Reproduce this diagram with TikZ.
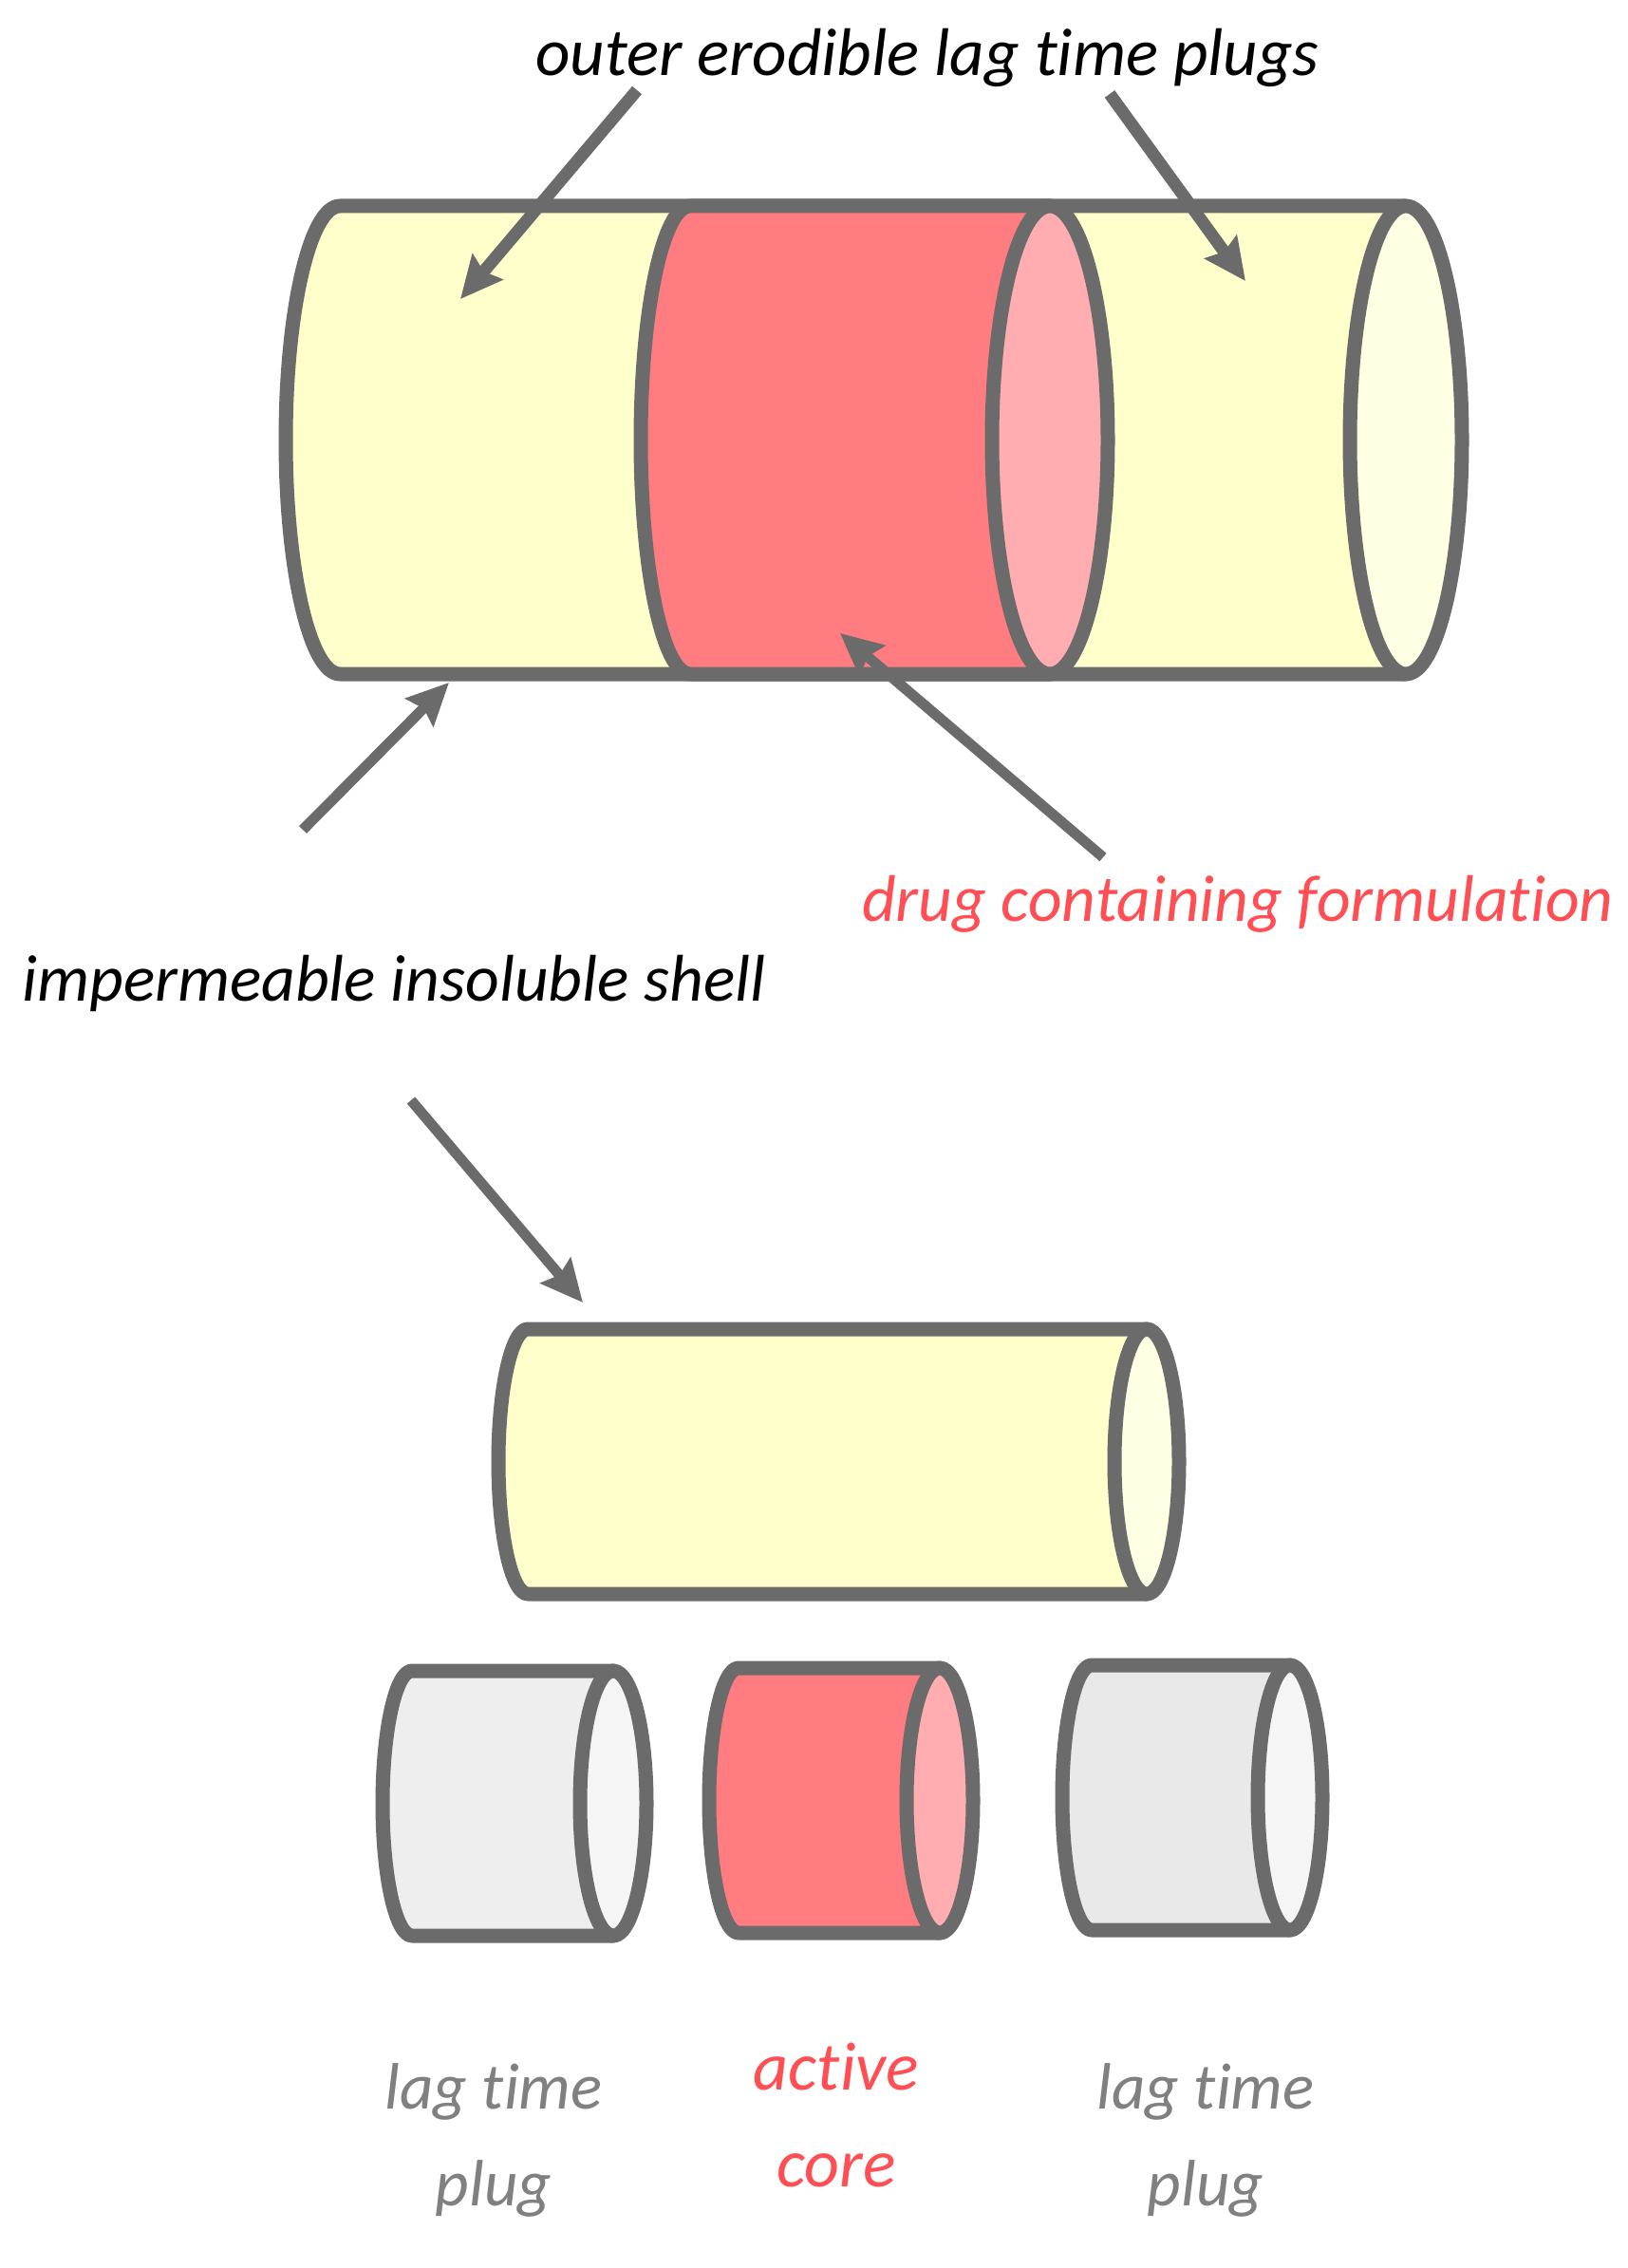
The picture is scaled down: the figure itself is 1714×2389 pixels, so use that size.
\documentclass[tikz,border=0pt]{standalone}
\usepackage{fontspec}
\setmainfont[Ligatures=NoCommon]{Carlito}
\usetikzlibrary{arrows.meta}
\definecolor{edgegray}{HTML}{6B6B6B}
\definecolor{shellyellow}{HTML}{FFFFCC}
\definecolor{shellcap}{HTML}{FFFFE3}
\definecolor{corered}{HTML}{FF7C80}
\definecolor{corecap}{HTML}{FFADB1}
\definecolor{plugA}{HTML}{EEEEEE}
\definecolor{plugB}{HTML}{E9E9E9}
\definecolor{plugcap}{HTML}{F5F5F5}
\definecolor{textred}{HTML}{FF4F55}
\definecolor{textgray}{HTML}{808080}
\tikzset{
  cylpart/.style={draw=edgegray,line width=15pt,line join=round},
  pointer/.style={draw=edgegray,line width=#1,-{Stealth[length=44pt,width=41pt,inset=6pt]}},
  pointer/.default=11pt,
  label text/.style={inner sep=0pt,anchor=base,font=\fontsize{#1}{102}\selectfont\itshape},
  two lines/.style={label text=#1,align=center}
}
% #1 left corner x, #2 cap centre x, #3 top y, #4 bottom y, #5 left bulge rx, #6 body fill
\newcommand{\cylbody}[6]{%
  \pgfmathsetmacro{\cymid}{(#3+#4)/2}%
  \pgfmathsetmacro{\cyry}{(#4-#3)/2}%
  \pgfmathsetmacro{\cykx}{#1-0.5523*#5}%
  \pgfmathsetmacro{\cyex}{#1-#5}%
  \pgfmathsetmacro{\cyup}{\cymid-0.5523*\cyry}%
  \pgfmathsetmacro{\cydn}{\cymid+0.5523*\cyry}%
  \path[cylpart,fill=#6] (#1,#3) .. controls (\cykx,#3) and (\cyex,\cyup) .. (\cyex,\cymid)
    .. controls (\cyex,\cydn) and (\cykx,#4) .. (#1,#4) -- (#2,#4) -- (#2,#3) -- cycle;%
}
% #1 centre x, #2 top y, #3 bottom y, #4 rx, #5 fill
\newcommand{\cylcap}[5]{%
  \pgfmathsetmacro{\cymid}{(#2+#3)/2}%
  \pgfmathsetmacro{\cyry}{(#3-#2)/2}%
  \path[cylpart,fill=#5] (#1,\cymid) ellipse [x radius=#4pt,y radius=\cyry pt];%
}
\begin{document}
\begin{tikzpicture}[x=1pt,y=-1pt]
\useasboundingbox (0,0) rectangle (1714,2389);
\fill[white] (0,0) rectangle (1714,2389);

% large assembled cylinder
\cylbody{358}{1481}{217}{710}{57}{shellyellow}
\cylcap{1481}{217}{710}{59}{shellcap}
\cylbody{727}{1106}{217}{710}{52}{corered}
\cylcap{1106}{217}{710}{61}{corecap}

% shell
\cylbody{556}{1208}{1400}{1679}{31}{shellyellow}
\cylcap{1208}{1400}{1679}{34}{shellcap}

% parts
\cylbody{434}{646}{1760}{2039}{31}{plugA}
\cylcap{646}{1760}{2039}{35}{plugcap}
\cylbody{778}{990}{1757}{2036}{31}{corered}
\cylcap{990}{1757}{2036}{35}{corecap}
\cylbody{1150}{1359}{1754}{2033}{31}{plugB}
\cylcap{1359}{1754}{2033}{34}{plugcap}

% labels
\node[label text=71,text=black] (outer) at (977,80) {outer erodible lag time plugs};
\node[label text=69.5,text=textred] (drug) at (1304,970) {drug containing formulation};
\node[label text=69.5,text=black] (shell) at (415,1054) {impermeable insoluble shell};
\node[two lines=69,text=textgray] (lagA) at (520,2323) {lag time\\plug};
\node[two lines=72,text=textred] (active) at (881,2303) {active\\core};
\node[two lines=69,text=textgray] (lagB) at (1270,2323) {lag time\\plug};

% pointers
\coordinate (outerL) at (671,95);
\coordinate (tipL) at (485,315);
\coordinate (outerR) at (1169,99);
\coordinate (tipR) at (1312,296);
\coordinate (shellUp) at (319,874);
\coordinate (tipShellUp) at (473,719);
\coordinate (drugTail) at (1162,903);
\coordinate (tipDrug) at (885,667);
\coordinate (shellDn) at (433,1159);
\coordinate (tipShellDn) at (614,1372);
\draw[pointer=13pt] (outerL) -- (tipL);
\draw[pointer=13pt] (outerR) -- (tipR);
\draw[pointer] (shellUp) -- (tipShellUp);
\draw[pointer] (drugTail) -- (tipDrug);
\draw[pointer] (shellDn) -- (tipShellDn);
\end{tikzpicture}
\end{document}
